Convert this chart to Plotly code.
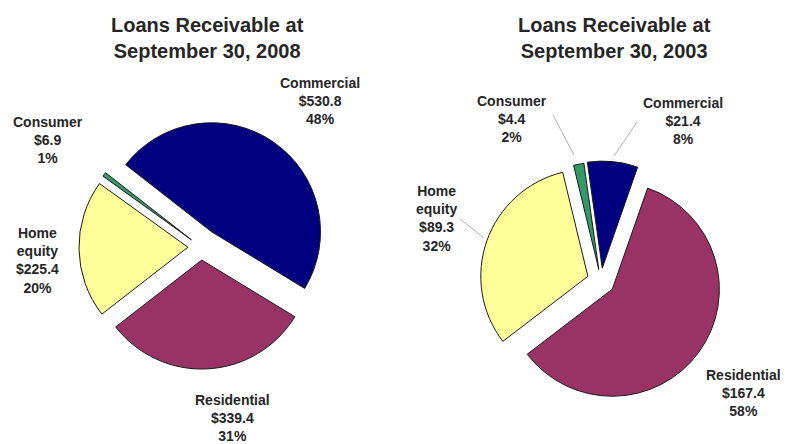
import plotly.graph_objects as go

# Loan portfolio composition ($ millions), slice order clockwise
categories = ["Commercial", "Residential", "Home equity", "Consumer"]
values_2008 = [530.8, 339.4, 225.4, 6.9]
values_2003 = [21.4, 167.4, 89.3, 4.4]
pct_2008 = ["48%", "31%", "20%", "1%"]
pct_2003 = ["8%", "58%", "32%", "2%"]
colors = ["#000080", "#993366", "#FFFF99", "#339966"]

W, H = 785, 444


def fx(x):
    return x / W


def fy(y):
    return 1 - y / H


def domain(cx, cy, size):
    half = size / 2
    return dict(x=[fx(cx - half), fx(cx + half)], y=[fy(cy + half), fy(cy - half)])


fig = go.Figure()

fig.add_trace(go.Pie(
    labels=categories, values=values_2008, sort=False, direction="clockwise",
    rotation=-52, pull=[0.17, 0.12, 0.12, 0.11], textinfo="none",
    marker=dict(colors=colors, line=dict(color="#1a1a1a", width=1)),
    domain=domain(201, 247, 255), showlegend=False, hoverinfo="label+value",
))
fig.add_trace(go.Pie(
    labels=categories, values=values_2003, sort=False, direction="clockwise",
    rotation=-8, pull=[0.12, 0.13, 0.13, 0.11], textinfo="none",
    marker=dict(colors=colors, line=dict(color="#1a1a1a", width=1)),
    domain=domain(601, 281, 242), showlegend=False, hoverinfo="label+value",
))

annotations = []
title_font = dict(family="Liberation Sans, Arial, sans-serif", size=20, color="#262626")
for cx, year in [(207, 2008), (614, 2003)]:
    annotations.append(dict(
        x=fx(cx), y=fy(38), xref="paper", yref="paper", showarrow=False,
        text=f"<b>Loans Receivable at<br>September 30, {year}</b>",
        font=title_font, xanchor="center", yanchor="middle",
    ))

label_font = dict(family="Liberation Sans, Arial, sans-serif", size=14, color="#262626")


def slice_label(name, value, pct, cx, cy):
    name_txt = name.replace(" ", "<br>")
    annotations.append(dict(
        x=fx(cx), y=fy(cy), xref="paper", yref="paper", showarrow=False,
        text=f"<b>{name_txt}<br>${value:.1f}<br>{pct}</b>",
        font=label_font, xanchor="center", yanchor="middle", align="center",
    ))


pos_2008 = [(320, 101), (232, 418), (37, 260), (48, 140)]
pos_2003 = [(683, 121), (743, 393), (436, 219), (512, 119)]
for name, v, p, (cx, cy) in zip(categories, values_2008, pct_2008, pos_2008):
    slice_label(name, v, p, cx, cy)
for name, v, p, (cx, cy) in zip(categories, values_2003, pct_2003, pos_2003):
    slice_label(name, v, p, cx, cy)

# Leader lines for the 2003 labels
leaders = [((553, 115), (574, 155)), ((637, 122), (614, 156)), ((460, 219), (484, 238))]
shapes = [
    dict(type="line", xref="paper", yref="paper",
         x0=fx(a[0]), y0=fy(a[1]), x1=fx(b[0]), y1=fy(b[1]),
         line=dict(color="#b0b0b0", width=1))
    for a, b in leaders
]

fig.update_layout(
    width=W, height=H, margin=dict(l=0, r=0, t=0, b=0),
    paper_bgcolor="white", plot_bgcolor="white",
    annotations=annotations, shapes=shapes,
)

fig.write_html("out.html")
